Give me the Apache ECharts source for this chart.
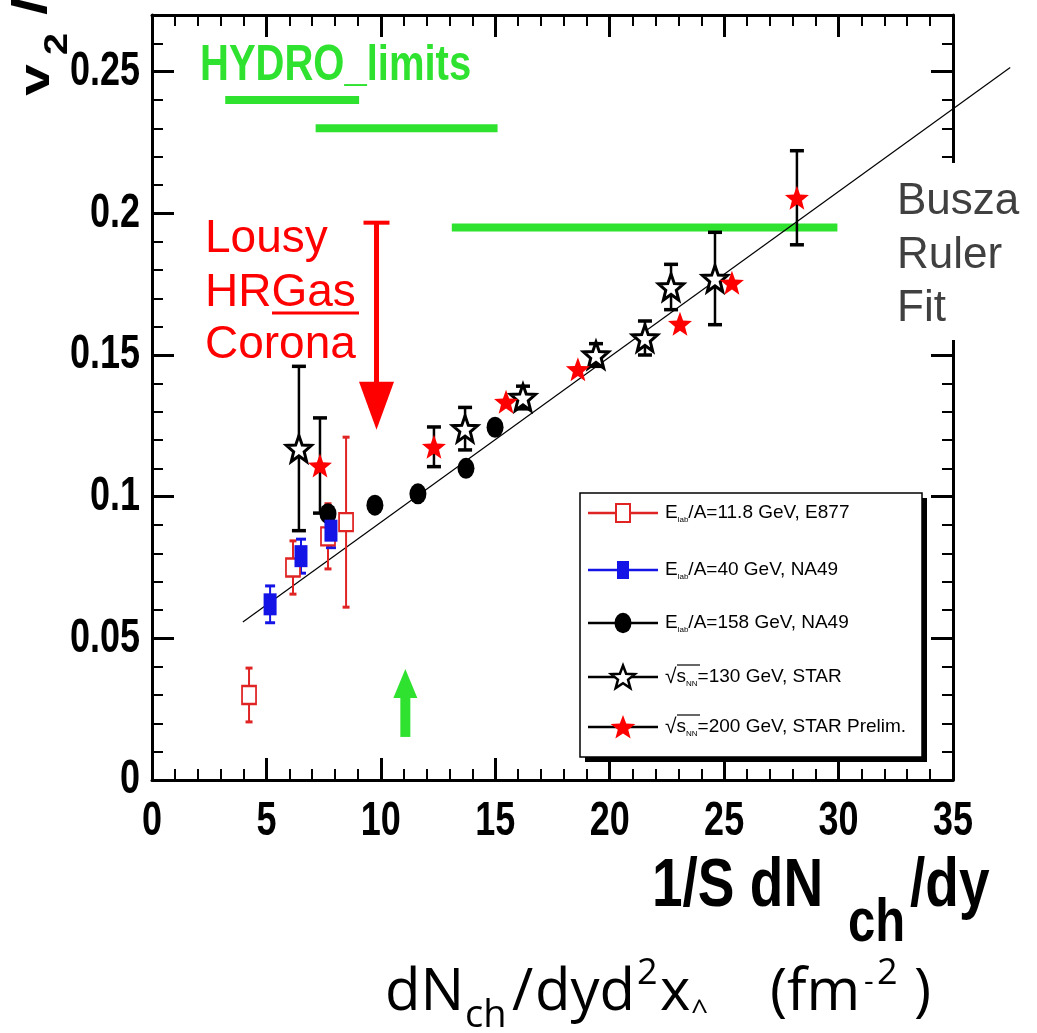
<!DOCTYPE html>
<html>
<head>
<meta charset="utf-8">
<script src="https://cdn.jsdelivr.net/npm/echarts@6/dist/echarts.min.js"></script>
<style>
  html, body { margin: 0; padding: 0; background: #ffffff; }
  #chart { width: 1037px; height: 1033px; }
</style>
</head>
<body>
<div id="chart"></div>
<script>
// ---- axis ticks ----
const xTickValues = [0, 5, 10, 15, 20, 25, 30, 35];
const yTickValues = [0, 0.05, 0.1, 0.15, 0.2, 0.25];
const xTickLabels = ['0', '5', '10', '15', '20', '25', '30', '35'];
const yTickLabels = ['0', '0.05', '0.1', '0.15', '0.2', '0.25'];

// ---- E877, Elab/A = 11.8 GeV ----
const e877X = [4.24, 6.16, 7.69, 8.48];
const e877Y = [0.030, 0.075, 0.086, 0.091];
const e877Err = [0.0095, 0.0094, 0.0115, 0.030];

// ---- NA49, Elab/A = 40 GeV ----
const na40X = [5.16, 6.51, 7.82];
const na40Y = [0.062, 0.079, 0.088];
const na40Err = [0.0065, 0.006, 0.006];

// ---- NA49, Elab/A = 158 GeV ----
const na158X = [7.69, 9.74, 11.62, 13.72, 14.99];
const na158Y = [0.094, 0.097, 0.101, 0.110, 0.1245];

// ---- STAR, sqrt(sNN) = 130 GeV ----
const star130X = [6.42, 13.68, 16.21, 19.40, 21.54, 22.68, 24.60];
const star130Y = [0.117, 0.124, 0.135, 0.150, 0.156, 0.174, 0.177];
const star130Err = [0.029, 0.0075, 0.004, 0.004, 0.006, 0.008, 0.0163];

// ---- STAR preliminary, sqrt(sNN) = 200 GeV ----
const star200X = [7.34, 12.32, 15.47, 18.61, 23.07, 25.34, 28.18];
const star200Y = [0.111, 0.1176, 0.1335, 0.145, 0.161, 0.1755, 0.2055];
const star200Err = [0.0168, 0.007, 0, 0, 0, 0, 0.0166];

// ---- hydrodynamic limits (horizontal bands) ----
const hydroX0 = [3.2, 7.15, 13.1];
const hydroX1 = [9.05, 15.1, 29.95];
const hydroY = [0.240, 0.230, 0.195];

// ---- straight-line fit (end points) ----
const fitX = [3.97, 37.5];
const fitY = [0.0558, 0.2515];

// ---- annotation arrows: red (down), green (up) ----
const arrowX = [9.81, 11.07];
const arrowFrom = [0.1967, 0.0152];
const arrowTo = [0.1236, 0.0392];

// ---- legend ----
const legendLabels = [
  'E{sub|lab}/A=11.8 GeV, E877',
  'E{sub|lab}/A=40 GeV, NA49',
  'E{sub|lab}/A=158 GeV, NA49',
  '{rt|\u221A}s{sub|NN}=130 GeV, STAR',
  '{rt|\u221A}s{sub|NN}=200 GeV, STAR Prelim.'
];

const FONT_SANS = "'Liberation Sans', Arial, sans-serif";
const FONT_OPEN = "'Open Sans', sans-serif";
const GREEN = '#2fe22f';
const RED = '#ff0000';
const SQ_RED = '#e02424';
const BLUE = '#1414e6';

function starPoints(cx, cy, rOut, rIn) {
  const pts = [];
  for (let i = 0; i < 10; i++) {
    const a = -Math.PI / 2 + i * Math.PI / 5;
    const r = (i % 2) ? rIn : rOut;
    pts.push([cx + r * Math.cos(a), cy + r * Math.sin(a)]);
  }
  return pts;
}
const starSymbol = 'path://' + starPoints(50, 50, 50, 21)
  .map((p, i) => (i ? 'L' : 'M') + p[0].toFixed(2) + ' ' + p[1].toFixed(2)).join(' ') + ' Z';

const zip2 = (xs, ys) => xs.map((x, i) => [x, ys[i]]);
const zip3 = (xs, ys, es) => xs.map((x, i) => [x, ys[i], es[i]]);

function errorBars(color, lw, cap) {
  return function (params, api) {
    const e = api.value(2);
    if (!e) return null;
    const x = api.value(0), y = api.value(1);
    const top = api.coord([x, y + e]);
    const bot = api.coord([x, y - e]);
    const hw = cap / 2;
    return {
      type: 'group',
      children: [
        { type: 'line', shape: { x1: top[0], y1: top[1], x2: bot[0], y2: bot[1] }, style: { stroke: color, lineWidth: lw } },
        { type: 'line', shape: { x1: top[0] - hw, y1: top[1], x2: top[0] + hw, y2: top[1] }, style: { stroke: color, lineWidth: lw + 1 } },
        { type: 'line', shape: { x1: bot[0] - hw, y1: bot[1], x2: bot[0] + hw, y2: bot[1] }, style: { stroke: color, lineWidth: lw + 1 } }
      ]
    };
  };
}

const arrowLook = [
  { color: RED, shaft: 5, headLen: 48, headW: 35, cap: 26 },
  { color: GREEN, shaft: 10, headLen: 29, headW: 24, cap: 0 }
];

function renderArrow(params, api) {
  const look = arrowLook[params.dataIndex];
  const x = api.value(0);
  const p0 = api.coord([x, api.value(1)]);
  const p1 = api.coord([x, api.value(2)]);
  const dir = p1[1] > p0[1] ? 1 : -1;
  const baseY = p1[1] - dir * look.headLen;
  const kids = [
    { type: 'line', shape: { x1: p0[0], y1: p0[1], x2: p0[0], y2: baseY + dir * 2 }, style: { stroke: look.color, lineWidth: look.shaft } },
    { type: 'polygon', shape: { points: [[p1[0] - look.headW / 2, baseY], [p1[0] + look.headW / 2, baseY], [p1[0], p1[1]]] }, style: { fill: look.color } }
  ];
  if (look.cap) {
    kids.push({ type: 'line', shape: { x1: p0[0] - look.cap / 2, y1: p0[1], x2: p0[0] + look.cap / 2, y2: p0[1] }, style: { stroke: look.color, lineWidth: 4 } });
  }
  return { type: 'group', children: kids };
}

function renderHydro(params, api) {
  const p0 = api.coord([api.value(0), api.value(1)]);
  const p1 = api.coord([api.value(2), api.value(1)]);
  return { type: 'line', shape: { x1: p0[0], y1: p0[1], x2: p1[0], y2: p1[1] }, style: { stroke: GREEN, lineWidth: 8 } };
}

// the fit line runs past the right edge of the frame
function renderFit(params, api) {
  const p0 = api.coord([api.value(0), api.value(1)]);
  const p1 = api.coord([api.value(2), api.value(3)]);
  return { type: 'line', shape: { x1: p0[0], y1: p0[1], x2: p1[0], y2: p1[1] }, style: { stroke: '#000', lineWidth: 1.2 } };
}

// ---- axes: bottom/left and mirrored top/right, ticks pointing inward ----
function xAxisDef(pos) {
  return {
    type: 'value', position: pos, min: 0, max: 35, interval: 5,
    axisLine: { show: true, onZero: false, lineStyle: { color: '#000', width: 3 } },
    axisTick: { show: true, inside: true, length: 22, lineStyle: { color: '#000', width: 3 } },
    minorTick: { show: true, splitNumber: 5, length: 11, lineStyle: { color: '#000', width: 2 } },
    splitLine: { show: false }, minorSplitLine: { show: false },
    axisLabel: { show: false }
  };
}
function yAxisMajor(pos) {
  return {
    type: 'value', position: pos, min: 0, max: 0.27, interval: 0.05,
    axisLine: { show: true, onZero: false, lineStyle: { color: '#000', width: 3 } },
    axisTick: { show: true, inside: true, length: 22, lineStyle: { color: '#000', width: 3 } },
    splitLine: { show: false },
    axisLabel: { show: false }
  };
}
function yAxisMinor(pos) {
  return {
    type: 'value', position: pos, min: 0, max: 0.27, interval: 0.01,
    axisLine: { show: false, onZero: false },
    axisTick: { show: true, inside: true, length: 11, lineStyle: { color: '#000', width: 2 } },
    splitLine: { show: false },
    axisLabel: { show: false }
  };
}

// ---- free-standing text and legend ----
function txt(text, x, y, o) {
  return {
    type: 'text', x: x, y: y, z: o.z || 50,
    rotation: o.rotation || 0, scaleX: o.scaleX || 1, scaleY: o.scaleY || 1,
    style: {
      text: text, fill: o.color || '#000',
      fontSize: o.size, fontWeight: o.weight || 'normal', fontFamily: o.family || FONT_SANS,
      align: o.align || 'left', verticalAlign: o.valign || 'middle'
    }
  };
}

const legendRowY = [513, 570, 623, 677, 727];
const legendLineColor = [SQ_RED, BLUE, '#000', '#000', '#000'];
function legendSymbol(i) {
  switch (i) {
    case 0: return { type: 'rect', shape: { x: -7, y: -9, width: 14, height: 18 }, style: { fill: '#fff', stroke: SQ_RED, lineWidth: 2 } };
    case 1: return { type: 'rect', shape: { x: -6, y: -9, width: 12, height: 18 }, style: { fill: BLUE } };
    case 2: return { type: 'circle', scaleY: 1.2, shape: { cx: 0, cy: 0, r: 8.5 }, style: { fill: '#000' } };
    case 3: return { type: 'polygon', shape: { points: starPoints(0, 1, 12.5, 5.3) }, style: { fill: '#fff', stroke: '#000', lineWidth: 2.5 } };
    default: return { type: 'polygon', shape: { points: starPoints(0, 1, 13, 5.5) }, style: { fill: RED } };
  }
}
const legendGraphics = [
  { type: 'rect', z: 40, shape: { x: 585, y: 498, width: 342, height: 264 }, style: { fill: '#000' } },
  { type: 'rect', z: 41, shape: { x: 580, y: 493, width: 342, height: 264 }, style: { fill: '#fff', stroke: '#000', lineWidth: 1.5 } }
];
legendLabels.forEach((label, i) => {
  const y = legendRowY[i];
  legendGraphics.push({
    type: 'group', x: 0, y: 0, z: 42,
    children: [
      { type: 'line', z: 42, shape: { x1: 588, y1: y, x2: 658, y2: y }, style: { stroke: legendLineColor[i], lineWidth: 2.5 } },
      Object.assign({ x: 623, y: y, z: 43 }, legendSymbol(i)),
      {
        type: 'text', x: 665, y: y, z: 43,
        style: {
          text: label, fill: '#000', fontSize: 19, fontFamily: FONT_SANS, verticalAlign: 'middle', align: 'left',
          rich: {
            sub: { fontSize: 8, fontFamily: FONT_SANS, verticalAlign: 'bottom', lineHeight: 21 },
            rt: { fontSize: 21, fontFamily: FONT_SANS }
          }
        }
      }
    ]
  });
  if (i >= 3) {
    legendGraphics.push({ type: 'line', z: 44, shape: { x1: 677, y1: y - 12, x2: 700, y2: y - 12 }, style: { stroke: '#000', lineWidth: 1.2 } });
  }
});

const textGraphics = [
  // vertical axis title
  txt('v', 37, 80, { size: 42, weight: 'bold', rotation: Math.PI / 2, scaleX: 1.35, align: 'center' }),
  txt('2', 58, 44, { size: 33, weight: 'bold', rotation: Math.PI / 2, scaleX: 1.2, align: 'center' }),
  txt('/', 33, 6, { size: 48, weight: 'bold', rotation: Math.PI / 2, scaleX: 1.3, align: 'center' }),
  // hydro label
  txt('HYDRO_limits', 200, 66, { size: 40, weight: 'bold', color: GREEN, scaleY: 1.25 }),
  // red annotation
  txt('Lousy', 205, 239, { size: 46, color: RED }),
  txt('HRGas', 205, 293, { size: 46, color: RED }),
  txt('Corona', 205, 345, { size: 46, color: RED }),
  { type: 'line', z: 50, shape: { x1: 272, y1: 313, x2: 359, y2: 313 }, style: { stroke: RED, lineWidth: 3 } },
  // fit label on a white patch over the right frame
  { type: 'rect', z: 45, shape: { x: 888, y: 163, width: 149, height: 177 }, style: { fill: '#fff' } },
  txt('Busza', 897, 202, { size: 44, color: '#404040' }),
  txt('Ruler', 897, 256, { size: 44, color: '#404040' }),
  txt('Fit', 897, 309, { size: 44, color: '#404040' }),
  // horizontal axis title
  txt('1/S dN', 652, 887, { size: 55, weight: 'bold', scaleY: 1.23 }),
  txt('ch', 848, 924, { size: 49, weight: 'bold', scaleY: 1.23 }),
  txt('/dy', 910, 887, { size: 55, weight: 'bold', scaleY: 1.23 }),
  // second horizontal axis title
  txt('dN', 385, 993, { size: 58, family: FONT_OPEN }),
  txt('ch', 465, 1016, { size: 38, family: FONT_OPEN }),
  txt('/', 512, 993, { size: 58, family: FONT_OPEN }),
  txt('dyd', 535, 993, { size: 58, family: FONT_OPEN }),
  txt('2', 637, 974, { size: 36, family: FONT_OPEN }),
  txt('x', 660, 993, { size: 58, family: FONT_OPEN }),
  txt('^', 691, 1012, { size: 30, family: FONT_OPEN }),
  txt('(fm', 770, 993, { size: 58, family: FONT_OPEN }),
  txt('-', 864, 982, { size: 30, family: FONT_OPEN }),
  txt('2', 877, 974, { size: 36, family: FONT_OPEN }),
  txt(')', 914, 993, { size: 58, family: FONT_OPEN })
];

const chart = echarts.init(document.getElementById('chart'), null, { renderer: 'canvas' });
chart.setOption({
  backgroundColor: '#ffffff',
  animation: false,
  grid: { left: 152, right: 84, top: 15, bottom: 253, containLabel: false },
  xAxis: [xAxisDef('bottom'), xAxisDef('top')],
  yAxis: [yAxisMajor('left'), yAxisMinor('left'), yAxisMajor('right'), yAxisMinor('right')],
  series: [
    { type: 'custom', name: 'hydro', renderItem: renderHydro,
      data: hydroX0.map((x, i) => [x, hydroY[i], hydroX1[i]]) },
    { type: 'custom', name: 'fit', renderItem: renderFit, clip: false,
      data: [[fitX[0], fitY[0], fitX[1], fitY[1]]] },
    { type: 'custom', name: 'E877 err', renderItem: errorBars(SQ_RED, 2, 7), data: zip3(e877X, e877Y, e877Err) },
    { type: 'scatter', name: 'E877', data: zip2(e877X, e877Y), symbol: 'rect', symbolSize: [14, 18],
      itemStyle: { color: '#fff', borderColor: SQ_RED, borderWidth: 2, opacity: 1 } },
    { type: 'scatter', name: 'NA49 158', data: zip2(na158X, na158Y), symbol: 'circle', symbolSize: [17, 21],
      itemStyle: { color: '#000', opacity: 1 } },
    { type: 'custom', name: 'NA49 40 err', renderItem: errorBars(BLUE, 2, 10), data: zip3(na40X, na40Y, na40Err) },
    { type: 'scatter', name: 'NA49 40', data: zip2(na40X, na40Y), symbol: 'rect', symbolSize: [13, 22],
      itemStyle: { color: BLUE, opacity: 1 } },
    { type: 'custom', name: 'STAR 130 err', renderItem: errorBars('#000', 2.5, 14), data: zip3(star130X, star130Y, star130Err) },
    { type: 'scatter', name: 'STAR 130', data: zip2(star130X, star130Y), symbol: starSymbol, symbolSize: [25, 26],
      itemStyle: { color: '#fff', borderColor: '#000', borderWidth: 3, opacity: 1 } },
    { type: 'custom', name: 'STAR 200 err', renderItem: errorBars('#000', 2.5, 14), data: zip3(star200X, star200Y, star200Err) },
    { type: 'scatter', name: 'STAR 200', data: zip2(star200X, star200Y), symbol: starSymbol, symbolSize: [24, 24],
      itemStyle: { color: RED, opacity: 1 } },
    { type: 'custom', name: 'arrows', renderItem: renderArrow, z: 5,
      data: arrowX.map((x, i) => [x, arrowFrom[i], arrowTo[i]]) }
  ]
});

// tick labels placed through the axis scales (tall bold digits)
const tickGraphics = [];
xTickValues.forEach((v, i) => {
  const p = chart.convertToPixel({ xAxisIndex: 0, yAxisIndex: 0 }, [v, 0]);
  tickGraphics.push(txt(xTickLabels[i], p[0], p[1] + 42, { size: 36, weight: 'bold', scaleY: 1.35, align: 'center', z: 30 }));
});
yTickValues.forEach((v, i) => {
  const p = chart.convertToPixel({ xAxisIndex: 0, yAxisIndex: 0 }, [0, v]);
  tickGraphics.push(txt(yTickLabels[i], p[0] - 12, p[1], { size: 36, weight: 'bold', scaleY: 1.35, align: 'right', z: 30 }));
});

chart.setOption({ graphic: legendGraphics.concat(textGraphics, tickGraphics) });
</script>
</body>
</html>
